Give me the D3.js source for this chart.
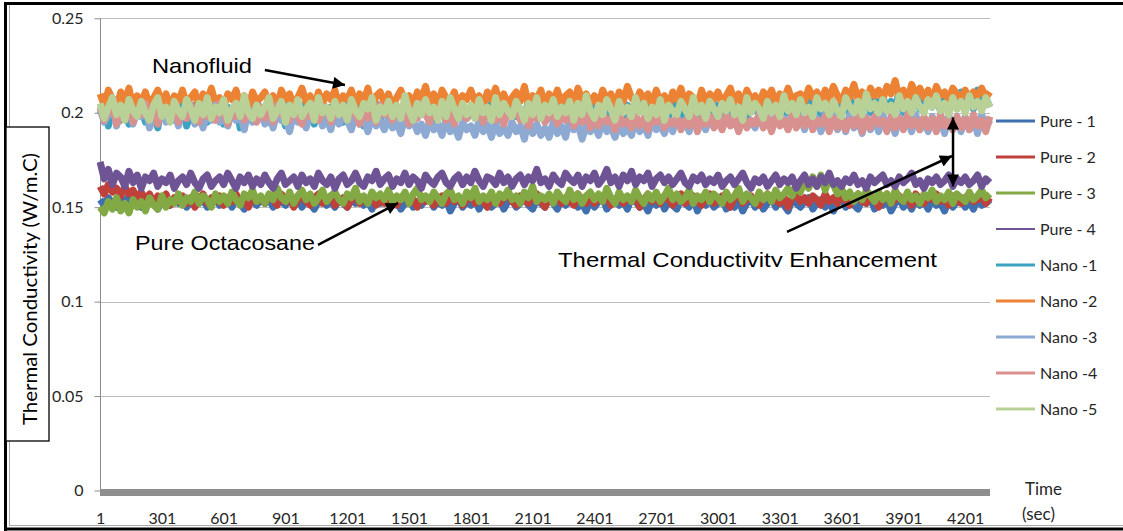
<!DOCTYPE html>
<html>
<head>
<meta charset="utf-8">
<script src="https://cdn.jsdelivr.net/npm/d3@7"></script>
<style>
  body { margin: 0; background: #fff; }
  svg { display: block; }
</style>
</head>
<body>
<div class="chart"></div>
<script>
// thermal conductivity every 20 s, in 10^-3 W/m.C
const timeStep = 20;

const pure1 = [
  154, 151, 155, 152, 150, 154, 153, 156, 151, 153,
  150, 155, 152, 154, 149, 153, 155, 151, 154, 152,
  155, 150, 153, 156, 152, 154, 150, 153, 155, 151,
  153, 155, 150, 154, 152, 149, 155, 153, 151, 154,
  152, 154, 150, 155, 153, 151, 154, 152, 156, 150,
  154, 152, 149, 153, 155, 151, 153, 150, 154, 152,
  150, 154, 152, 155, 151, 153, 149, 154, 152, 155,
  153, 151, 154, 149, 152, 155, 150, 153, 151, 154,
  155, 150, 153, 151, 154, 148, 152, 155, 150, 153,
  151, 154, 149, 153, 155, 150, 152, 154, 149, 153,
  154, 150, 152, 155, 151, 149, 154, 152, 150, 155,
  152, 149, 154, 151, 153, 155, 150, 152, 148, 154,
  150, 153, 155, 149, 152, 154, 151, 153, 149, 155,
  153, 150, 152, 148, 154, 151, 155, 149, 153, 151,
  149, 154, 152, 150, 155, 148, 153, 151, 154, 150,
  152, 155, 149, 153, 150, 154, 148, 152, 155, 150,
  154, 149, 152, 155, 150, 153, 151, 148, 154, 152,
  150, 153, 155, 149, 152, 154, 150, 153, 148, 152,
  155, 150, 153, 151, 149, 154, 152, 155, 149, 153,
  151, 154, 148, 152, 155, 150, 153, 149, 154, 151,
  153, 149, 155, 151, 152, 148, 154, 150, 153, 155,
  150, 153, 149, 154, 151, 152, 154
];
const pure2 = [
  161, 157, 162, 158, 160, 156, 161, 157, 159, 155,
  158, 154, 157, 152, 156, 154, 157, 151, 155, 153,
  156, 152, 155, 150, 154, 157, 152, 155, 153, 156,
  151, 155, 153, 157, 152, 154, 150, 156, 153, 155,
  152, 156, 154, 151, 157, 153, 155, 150, 154, 156,
  153, 151, 155, 157, 152, 154, 156, 151, 153, 155,
  150, 154, 156, 152, 155, 153, 157, 151, 154, 152,
  156, 153, 151, 155, 157, 152, 154, 150, 156, 153,
  155, 151, 154, 156, 152, 157, 153, 155, 151, 154,
  157, 152, 155, 153, 150, 156, 154, 152, 155, 157,
  153, 151, 156, 154, 152, 155, 157, 153, 150, 155,
  154, 156, 152, 155, 153, 151, 157, 154, 152, 156,
  152, 155, 153, 157, 151, 154, 156, 152, 155, 153,
  156, 150, 154, 157, 153, 155, 152, 156, 154, 151,
  155, 157, 152, 154, 156, 153, 151, 155, 157, 152,
  154, 156, 153, 150, 155, 157, 152, 154, 156, 153,
  151, 155, 157, 153, 154, 152, 156, 150, 155, 157,
  153, 155, 152, 156, 154, 151, 157, 153, 155, 152,
  156, 154, 151, 155, 157, 153, 152, 156, 154, 150,
  155, 157, 152, 154, 156, 153, 155, 151, 157, 154,
  152, 156, 154, 157, 153, 155, 151, 156, 154, 152,
  155, 157, 153, 154, 156, 152, 155
];
const pure3 = [
  150, 147, 153, 149, 155, 148, 152, 147, 154, 150,
  153, 148, 155, 151, 149, 156, 150, 154, 152, 157,
  151, 155, 153, 158, 152, 156, 154, 150, 157, 153,
  156, 152, 158, 154, 151, 157, 155, 159, 153, 156,
  152, 157, 154, 160, 155, 153, 158, 152, 156, 159,
  154, 157, 152, 155, 159, 153, 156, 158, 154, 152,
  157, 155, 160, 153, 156, 152, 158, 155, 157, 154,
  159, 153, 156, 154, 158, 152, 157, 160, 154, 156,
  153, 158, 155, 152, 157, 159, 154, 156, 152, 158,
  155, 160, 153, 156, 154, 158, 152, 157, 155, 159,
  154, 156, 152, 158, 155, 161, 153, 156, 154, 157,
  152, 158, 155, 153, 159, 154, 157, 152, 156, 158,
  154, 157, 153, 160, 155, 152, 158, 154, 156, 153,
  159, 155, 152, 157, 154, 158, 153, 156, 160, 154,
  157, 153, 155, 159, 152, 156, 154, 158, 153, 157,
  155, 152, 158, 154, 156, 160, 153, 157, 155, 152,
  158, 154, 157, 153, 159, 155, 157, 160, 156, 162,
  158, 164, 160, 166, 161, 167, 159, 165, 162, 157,
  160, 155, 158, 153, 157, 154, 159, 156, 153, 158,
  154, 157, 152, 159, 155, 153, 158, 154, 156, 152,
  157, 155, 159, 153, 156, 154, 158, 152, 157, 155,
  153, 158, 154, 156, 159, 155, 157
];
const pure4 = [
  174, 165, 170, 162, 168, 166, 161, 169, 163, 167,
  160, 166, 164, 168, 161, 165, 163, 167, 160, 164,
  166, 162, 168, 163, 160, 165, 167, 161, 164, 166,
  162, 168, 164, 160, 166, 163, 167, 161, 165, 162,
  167, 163, 160, 165, 168, 162, 164, 166, 161, 167,
  163, 165, 161, 168, 164, 162, 166, 160, 165, 167,
  162, 164, 168, 163, 161, 166, 164, 169, 162, 165,
  167, 161, 165, 163, 168, 162, 166, 164, 160, 167,
  164, 162, 166, 168, 163, 161, 165, 167, 162, 166,
  163, 169, 164, 161, 166, 165, 162, 168, 163, 166,
  161, 165, 167, 162, 166, 164, 170, 163, 165, 161,
  167, 164, 162, 168, 165, 163, 167, 161, 166, 164,
  168, 162, 165, 170, 163, 166, 161, 167, 164, 169,
  162, 166, 164, 168, 161, 165, 167, 163, 166, 162,
  165, 168, 163, 161, 166, 164, 167, 162, 165, 163,
  167, 161, 164, 166, 162, 165, 168, 163, 160, 165,
  163, 166, 161, 164, 167, 162, 165, 163, 166, 160,
  164, 167, 162, 165, 161, 166, 163, 168, 162, 164,
  161, 165, 163, 167, 162, 164, 160, 166, 163, 165,
  167, 162, 164, 161, 166, 163, 165, 168, 162, 164,
  160, 165, 163, 166, 162, 164, 167, 161, 165, 163,
  166, 162, 164, 167, 161, 165, 163
];
const nano1 = [
  199, 205, 193, 203, 207, 196, 202, 194, 206, 198,
  203, 195, 207, 200, 192, 205, 198, 204, 196, 201,
  206, 193, 200, 204, 197, 207, 195, 202, 199, 205,
  194, 203, 198, 206, 192, 201, 204, 196, 207, 199,
  202, 195, 205, 198, 203, 193, 206, 200, 197, 204,
  199, 206, 194, 202, 205, 196, 203, 198, 207, 195,
  204, 197, 201, 206, 193, 203, 199, 205, 196, 202,
  198, 205, 200, 194, 206, 201, 197, 204, 199, 207,
  203, 196, 205, 199, 202, 195, 207, 200, 204, 197,
  200, 206, 197, 203, 198, 205, 194, 202, 206, 199,
  205, 198, 202, 196, 207, 200, 203, 197, 205, 201,
  197, 204, 200, 206, 199, 202, 196, 205, 201, 203,
  206, 199, 203, 197, 205, 200, 208, 198, 204, 201,
  199, 206, 201, 204, 197, 207, 200, 203, 198, 205,
  202, 197, 205, 200, 208, 199, 204, 201, 206, 198,
  204, 200, 207, 198, 203, 201, 206, 197, 205, 202,
  199, 206, 202, 208, 200, 204, 198, 207, 201, 205,
  203, 199, 207, 201, 205, 198, 209, 202, 206, 200,
  205, 201, 208, 199, 206, 203, 210, 200, 207, 202,
  209, 201, 206, 203, 211, 200, 207, 204, 210, 202,
  206, 211, 203, 208, 201, 210, 204, 207, 202, 211,
  204, 209, 202, 212, 205, 208, 203
];
const nano2 = [
  210, 204, 212, 207, 202, 211, 206, 213, 203, 209,
  205, 211, 203, 208, 212, 204, 210, 202, 209, 206,
  212, 204, 208, 211, 203, 210, 206, 213, 205, 208,
  203, 210, 207, 212, 204, 209, 202, 211, 206, 208,
  211, 205, 209, 203, 212, 207, 210, 204, 208, 213,
  206, 209, 202, 211, 205, 210, 207, 212, 203, 209,
  207, 212, 204, 210, 206, 213, 203, 209, 211, 205,
  210, 203, 208, 212, 206, 209, 204, 211, 207, 214,
  205, 210, 203, 212, 208, 206, 211, 204, 209, 207,
  212, 206, 209, 203, 211, 207, 213, 205, 210, 204,
  208, 211, 206, 214, 204, 209, 207, 212, 203, 210,
  206, 212, 205, 209, 211, 204, 213, 207, 210, 205,
  209, 204, 212, 207, 210, 203, 211, 206, 214, 208,
  205, 211, 207, 210, 204, 212, 206, 209, 203, 211,
  207, 213, 205, 210, 208, 204, 212, 206, 210, 207,
  211, 205, 209, 213, 206, 210, 204, 212, 207, 209,
  204, 211, 208, 212, 205, 210, 207, 213, 206, 209,
  210, 206, 213, 208, 211, 205, 212, 207, 214, 209,
  206, 212, 208, 215, 207, 211, 205, 213, 209, 212,
  207, 214, 210, 217, 208, 212, 206, 215, 210, 213,
  208, 212, 206, 214, 209, 211, 207, 213, 210, 208,
  212, 207, 211, 209, 213, 208, 211
];
const nano3 = [
  202, 195, 199, 204, 193, 200, 197, 203, 194, 201,
  198, 204, 192, 200, 196, 203, 195, 199, 202, 193,
  200, 197, 203, 194, 199, 192, 201, 196, 204, 195,
  198, 193, 201, 196, 199, 191, 202, 195, 197, 200,
  194, 199, 192, 201, 196, 198, 190, 200, 195, 198,
  192, 199, 196, 201, 193, 197, 191, 200, 194, 198,
  196, 191, 199, 194, 197, 190, 198, 193, 196, 191,
  197, 192, 195, 189, 198, 193, 196, 190, 194, 188,
  196, 191, 194, 188, 197, 190, 193, 187, 195, 191,
  193, 188, 196, 190, 194, 187, 195, 189, 192, 188,
  195, 190, 193, 186, 196, 189, 194, 188, 192, 187,
  195, 189, 193, 187, 196, 191, 194, 186, 193, 190,
  194, 188, 196, 190, 193, 187, 195, 189, 192, 188,
  196, 190, 194, 188, 197, 191, 193, 189, 196, 190,
  198, 192, 196, 190, 199, 193, 197, 191, 198, 194,
  199, 192, 197, 194, 200, 191, 198, 193, 196, 192,
  200, 193, 198, 191, 199, 194, 197, 192, 200, 193,
  198, 191, 199, 193, 197, 190, 199, 192, 198, 191,
  197, 190, 199, 192, 196, 189, 198, 191, 197, 190,
  199, 191, 196, 189, 198, 192, 197, 190, 199, 191,
  196, 190, 198, 192, 197, 189, 199, 191, 196, 190,
  198, 191, 197, 189, 199, 192, 196
];
const nano4 = [
  203, 196, 201, 205, 194, 200, 198, 204, 195, 202,
  199, 205, 196, 202, 194, 203, 200, 197, 204, 195,
  201, 197, 204, 199, 195, 203, 198, 202, 196, 205,
  200, 194, 202, 198, 204, 196, 201, 199, 195, 203,
  197, 202, 195, 204, 199, 201, 196, 203, 198, 194,
  202, 198, 204, 196, 200, 203, 195, 201, 199, 204,
  196, 202, 199, 194, 203, 197, 201, 195, 204, 199,
  201, 196, 203, 198, 200, 194, 202, 197, 205, 199,
  195, 201, 198, 203, 196, 200, 194, 202, 199, 197,
  203, 197, 200, 195, 202, 198, 196, 201, 194, 200,
  198, 202, 196, 200, 193, 199, 197, 201, 195, 198,
  200, 194, 198, 196, 201, 193, 199, 195, 200, 192,
  198, 193, 200, 195, 197, 191, 199, 194, 196, 192,
  199, 193, 197, 191, 198, 195, 200, 192, 196, 194,
  198, 191, 196, 193, 199, 190, 197, 194, 198, 192,
  196, 191, 199, 193, 197, 190, 198, 192, 196, 194,
  199, 192, 197, 190, 198, 193, 196, 191, 199, 192,
  197, 193, 199, 191, 196, 194, 198, 190, 197, 192,
  198, 191, 196, 193, 199, 190, 197, 192, 198, 194,
  196, 190, 198, 192, 197, 191, 199, 193, 196, 191,
  198, 192, 197, 190, 199, 193, 196, 191, 198, 192,
  197, 191, 199, 193, 196, 190, 198
];
const nano5 = [
  205, 197, 203, 208, 199, 204, 196, 207, 201, 198,
  206, 200, 196, 204, 208, 198, 203, 195, 206, 201,
  198, 207, 202, 196, 205, 199, 208, 197, 203, 200,
  207, 196, 202, 205, 198, 209, 200, 197, 204, 199,
  203, 208, 197, 201, 206, 195, 204, 199, 207, 198,
  202, 205, 196, 208, 200, 203, 197, 206, 199, 204,
  196, 207, 201, 198, 205, 202, 208, 196, 203, 200,
  206, 198, 204, 197, 209, 201, 196, 205, 199, 207,
  200, 203, 196, 206, 198, 208, 202, 197, 205, 199,
  204, 197, 207, 200, 203, 196, 208, 199, 205, 201,
  198, 206, 202, 196, 205, 199, 208, 197, 204, 200,
  207, 198, 203, 200, 206, 196, 205, 199, 209, 201,
  197, 204, 199, 207, 202, 196, 206, 200, 203, 198,
  208, 200, 205, 197, 203, 199, 207, 196, 204, 201,
  199, 206, 202, 198, 208, 200, 204, 197, 206, 202,
  198, 205, 201, 207, 199, 203, 196, 208, 200, 205,
  202, 197, 206, 200, 204, 198, 209, 201, 205, 199,
  207, 200, 203, 198, 208, 202, 205, 199, 206, 201,
  198, 208, 203, 200, 206, 199, 210, 202, 205, 200,
  207, 201, 204, 199, 209, 202, 206, 200, 208, 203,
  200, 207, 203, 209, 201, 205, 199, 208, 202, 206,
  200, 209, 203, 206, 201, 208, 203
];

const seriesNames = ["Pure - 1", "Pure - 2", "Pure - 3", "Pure - 4",
  "Nano -1", "Nano -2", "Nano -3", "Nano -4", "Nano -5"];
const seriesValues = [pure1, pure2, pure3, pure4, nano1, nano2, nano3, nano4, nano5];
const seriesColors = ["#4070b0", "#c0403a", "#82a944", "#6e5395",
  "#3ba3c0", "#ec8234", "#8eaad3", "#d8918f", "#b9d196"];

const xTickLabels = [1, 301, 601, 901, 1201, 1501, 1801, 2101, 2401, 2701, 3001, 3301, 3601, 3901, 4201];
const yTicks = [0, 50, 100, 150, 200, 250];
const yTickText = ["0", "0.05", "0.1", "0.15", "0.2", "0.25"];

const times = pure1.map((d, i) => 1 + i * timeStep);

const W = 1123, H = 531;
const calibri = "Lato, 'Open Sans', sans-serif";
const arial = "'Liberation Sans', Arial, sans-serif";

const svg = d3.select(".chart").append("svg")
  .attr("width", W).attr("height", H)
  .style("background", "#fff");

const x = d3.scaleLinear().domain([0.5, 4321.5]).range([100, 990]);
const y = d3.scaleLinear().domain([0, 250]).range([490.5, 18.3]);

// frame
svg.append("line").attr("x1", 4).attr("x2", W).attr("y1", 3.5).attr("y2", 3.5)
  .attr("stroke", "#000").attr("stroke-width", 3);
svg.append("line").attr("x1", 5.5).attr("x2", 5.5).attr("y1", 2).attr("y2", H)
  .attr("stroke", "#000").attr("stroke-width", 3);
svg.append("line").attr("x1", 4).attr("x2", W).attr("y1", 529).attr("y2", 529)
  .attr("stroke", "#000").attr("stroke-width", 3);
svg.append("line").attr("x1", 9.5).attr("x2", 9.5).attr("y1", 5).attr("y2", 526)
  .attr("stroke", "#a8a8a8").attr("stroke-width", 1);
svg.append("line").attr("x1", 9).attr("x2", W).attr("y1", 525.5).attr("y2", 525.5)
  .attr("stroke", "#a8a8a8").attr("stroke-width", 1);

// gridlines
svg.append("g").selectAll("line")
  .data(yTicks.filter(d => d > 0))
  .join("line")
  .attr("x1", x.range()[0]).attr("x2", x.range()[1])
  .attr("y1", d => Math.round(y(d)) + 0.5).attr("y2", d => Math.round(y(d)) + 0.5)
  .attr("stroke", "#bdbdbd").attr("stroke-width", 1);

// y axis
const yAxis = svg.append("g")
  .attr("transform", "translate(100.5,0)")
  .call(d3.axisLeft(y).tickValues(yTicks).tickSize(6).tickPadding(11)
    .tickFormat((d, i) => yTickText[i]));
yAxis.select(".domain").attr("stroke", "#8c8c8c").attr("d", `M0,${y(250)}V${y(0)}`);
yAxis.selectAll(".tick line").attr("stroke", "#8c8c8c");
yAxis.selectAll(".tick text")
  .style("font-family", calibri).style("font-size", "16px").attr("fill", "#262626");

// series, first one drawn at the bottom like the spreadsheet;
// the readings are dense, so a heavy stroke stands in for the packed trace
const line = d3.line()
  .x((d, i) => x(times[i]))
  .y(d => y(d));

svg.append("g").selectAll("path")
  .data(seriesValues)
  .join("path")
  .attr("d", d => line(d))
  .attr("fill", "none")
  .attr("stroke", (d, i) => seriesColors[i])
  .attr("stroke-width", 7)
  .attr("stroke-linejoin", "round");

// heavy horizontal axis at zero
svg.append("rect")
  .attr("x", x.range()[0]).attr("width", x.range()[1] - x.range()[0])
  .attr("y", y(0) - 1.5).attr("height", 7)
  .attr("fill", "#8e8e8e");

// category labels
const xAxis = svg.append("g")
  .attr("transform", `translate(0,${y(0)})`)
  .call(d3.axisBottom(x).tickValues(xTickLabels).tickSize(0).tickPadding(22)
    .tickFormat(d => d));
xAxis.select(".domain").remove();
xAxis.selectAll(".tick text")
  .style("font-family", calibri).style("font-size", "16px").attr("fill", "#262626");

svg.append("text").attr("x", 1025).attr("y", 495).text("Time")
  .style("font-family", calibri).style("font-size", "17px").attr("fill", "#262626");
svg.append("text").attr("x", 1022).attr("y", 520).text("(sec)")
  .style("font-family", calibri).style("font-size", "17px").attr("fill", "#262626");

// y title box
svg.append("rect").attr("x", 6).attr("y", 127).attr("width", 43).attr("height", 314)
  .attr("fill", "#fff").attr("stroke", "#000").attr("stroke-width", 1.3);
svg.append("text")
  .attr("transform", "translate(29,289) rotate(-90)")
  .attr("text-anchor", "middle").attr("dominant-baseline", "central")
  .attr("textLength", 272).attr("lengthAdjust", "spacingAndGlyphs")
  .style("font-family", calibri).style("font-size", "19px").attr("fill", "#000")
  .text("Thermal Conductivity (W/m.C)");

// legend
const legend = svg.append("g").selectAll("g")
  .data(seriesNames)
  .join("g")
  .attr("transform", (d, i) => `translate(996,${121 + i * 36})`);
legend.append("line").attr("x1", 0).attr("x2", 39)
  .attr("stroke", (d, i) => seriesColors[i])
  .attr("stroke-width", (d, i) => i === 3 ? 2 : 3);
legend.append("text").attr("x", 44).attr("dy", "0.35em")
  .style("font-family", calibri).style("font-size", "16px").attr("fill", "#262626")
  .text(d => d);

// annotations, placed in data units
const defs = svg.append("defs");
defs.append("marker").attr("id", "head")
  .attr("viewBox", "0 0 10 10").attr("refX", 10).attr("refY", 5)
  .attr("markerWidth", 15).attr("markerHeight", 12)
  .attr("markerUnits", "userSpaceOnUse").attr("orient", "auto-start-reverse")
  .append("path").attr("d", "M0,0L10,5L0,10Z").attr("fill", "#000");
defs.append("clipPath").attr("id", "cut")
  .append("rect").attr("x", 0).attr("y", 0).attr("width", W).attr("height", 267);

const notes = [
  { text: "Nanofluid", t: 253, v: 220.9, len: 100 },
  { text: "Pure Octacosane", t: 170, v: 127.3, len: 180 },
  { text: "Thermal Conductivity Enhancement", t: 2224, v: 118.5, len: 379, clip: true }
];
const arrows = [
  { t0: 801, v0: 222.6, t1: 1190, v1: 214.7 },
  { t0: 1059, v0: 130.0, t1: 1447, v1: 152.2 },
  { t0: 3336, v0: 136.9, t1: 4137, v1: 177.1 },
  { t0: 4142, v0: 197.5, t1: 4142, v1: 161.0, both: true }
];

svg.append("g").selectAll("text")
  .data(notes)
  .join("text")
  .attr("x", d => x(d.t)).attr("y", d => y(d.v))
  .attr("textLength", d => d.len).attr("lengthAdjust", "spacingAndGlyphs")
  .attr("clip-path", d => d.clip ? "url(#cut)" : null)
  .style("font-family", arial).style("font-size", "21px").attr("fill", "#000")
  .text(d => d.text);

svg.append("g").selectAll("line")
  .data(arrows)
  .join("line")
  .attr("x1", d => x(d.t0)).attr("y1", d => y(d.v0))
  .attr("x2", d => x(d.t1)).attr("y2", d => y(d.v1))
  .attr("stroke", "#000").attr("stroke-width", 2.5)
  .attr("marker-end", "url(#head)")
  .attr("marker-start", d => d.both ? "url(#head)" : null);
</script>
</body>
</html>
